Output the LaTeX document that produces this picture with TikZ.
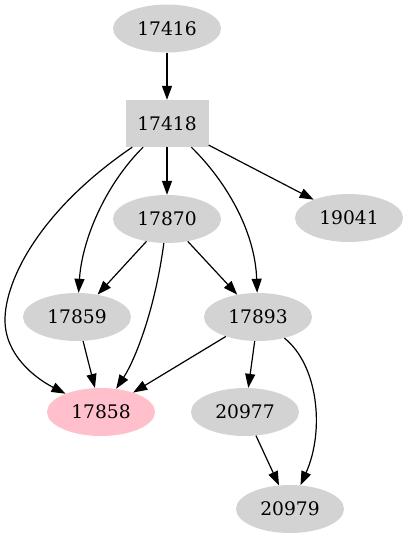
\documentclass[tikz,border=0pt]{standalone}
\usepackage{fontspec}
\setmainfont{DejaVu Serif}
\usetikzlibrary{shapes.geometric,arrows.meta}
\definecolor{gvgray}{HTML}{D3D3D3}
\definecolor{gvpink}{HTML}{FFC0CB}
\tikzset{
  ell/.style={ellipse, fill=gvgray, draw=none, minimum width=108pt, minimum height=48pt, inner sep=0pt, font=\fontsize{18.67}{20}\selectfont},
  pinkell/.style={ell, fill=gvpink},
  boxnode/.style={rectangle, fill=gvgray, draw=none, minimum width=83pt, minimum height=47pt, inner sep=0pt, font=\fontsize{18.67}{20}\selectfont},
  edge/.style={draw=black, line width=1.2pt, -{Triangle[length=14pt,width=10pt]}}
}
\begin{document}
\begin{tikzpicture}[x=1pt,y=-1pt]
\useasboundingbox (0,0) rectangle (408,539);
\node[ell] (n17416) at (167,28.5) {17416};
\node[boxnode] (n17418) at (167,123.5) {17418};
\node[ell] (n17870) at (167,219) {17870};
\node[ell] (n19041) at (349,218) {19041};
\node[ell] (n17859) at (77,317) {17859};
\node[ell] (n17893) at (258,317) {17893};
\node[pinkell] (n17858) at (101,412) {17858};
\node[ell] (n20977) at (245,412) {20977};
\node[ell] (n20979) at (290,509) {20979};
\coordinate (lft) at (5,320);

\draw[edge] (n17416) -- (n17418);
\draw[edge] (n17418) -- (n17870);
\draw[edge] (n17418) -- (n19041);
\draw[edge] (n17418) .. controls (40,210) and (5,280) .. (lft) .. controls (5,355) and (35,378) .. (n17858);
\draw[edge] (n17418) .. controls (105,185) and (82,240) .. (n17859);
\draw[edge] (n17418) .. controls (225,180) and (255,230) .. (n17893);
\draw[edge] (n17870) -- (n17859);
\draw[edge] (n17870) -- (n17893);
\draw[edge] (n17870) .. controls (155,310) and (135,360) .. (n17858);
\draw[edge] (n17859) -- (n17858);
\draw[edge] (n17893) -- (n17858);
\draw[edge] (n17893) -- (n20977);
\draw[edge] (n17893) .. controls (318,365) and (325,430) .. (n20979);
\draw[edge] (n20977) -- (n20979);
\end{tikzpicture}
\end{document}
